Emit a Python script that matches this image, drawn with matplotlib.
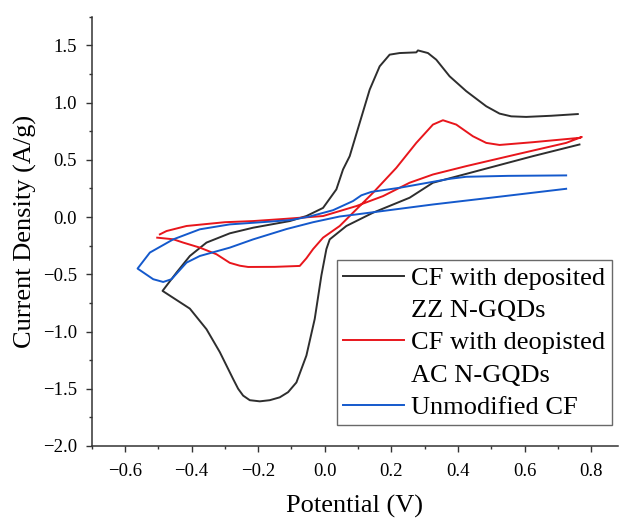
import matplotlib
matplotlib.use("Agg")
import matplotlib.pyplot as plt
from matplotlib.lines import Line2D
from matplotlib.ticker import MultipleLocator

OUTPUT = "out.png"

# CF with deposited ZZ N-GQDs (potential V, current density A/g)
zz_x = [0.765, 0.625, 0.475, 0.325, 0.255, 0.145, 0.065, 0.015, 0.005, -0.01,
        -0.03, -0.055, -0.085, -0.11, -0.135, -0.165, -0.195, -0.225, -0.245,
        -0.26, -0.275, -0.315, -0.355, -0.405, -0.487,
        -0.445, -0.405, -0.355, -0.285, -0.215, -0.105, -0.055, -0.005, 0.035,
        0.055, 0.075, 0.105, 0.135, 0.165, 0.195, 0.225, 0.275, 0.28, 0.31,
        0.335, 0.375, 0.425, 0.485, 0.525, 0.56, 0.605, 0.68, 0.76]
zz_y = [0.634, 0.532, 0.416, 0.30, 0.169, 0.038, -0.078, -0.195, -0.28, -0.51,
        -0.89, -1.21, -1.445, -1.53, -1.575, -1.60, -1.61, -1.60, -1.56,
        -1.50, -1.415, -1.18, -0.98, -0.80, -0.645,
        -0.485, -0.34, -0.223, -0.142, -0.093, -0.035, 0.009, 0.08, 0.242,
        0.416, 0.532, 0.823, 1.113, 1.317, 1.419, 1.433, 1.439, 1.456, 1.433,
        1.375, 1.23, 1.10, 0.968, 0.904, 0.88, 0.875, 0.885, 0.90]

# CF with deposited AC N-GQDs
ac_x = [-0.503, -0.455, -0.425, -0.375, -0.325, -0.285, -0.255, -0.23, -0.15,
        -0.075, -0.055, -0.035, -0.005, 0.045, 0.095, 0.145, 0.215, 0.275,
        0.325, 0.355, 0.395, 0.445, 0.485, 0.525, 0.625, 0.765, 0.772,
        0.725, 0.575, 0.425, 0.325, 0.255, 0.175, 0.095, -0.005, -0.115,
        -0.215, -0.3, -0.415, -0.475, -0.495]
ac_y = [-0.18, -0.194, -0.223, -0.267, -0.325, -0.40, -0.425, -0.436, -0.435,
        -0.427, -0.36, -0.28, -0.18, -0.078, 0.067, 0.212, 0.43, 0.648,
        0.808, 0.846, 0.808, 0.706, 0.648, 0.63, 0.654, 0.692, 0.70,
        0.648, 0.547, 0.445, 0.372, 0.30, 0.183, 0.096, 0.009, -0.015,
        -0.035, -0.045, -0.078, -0.122, -0.151]

# Unmodified CF
cf_x = [0.725, 0.525, 0.325, 0.095, 0.045, -0.035, -0.115, -0.215, -0.285,
        -0.375, -0.415, -0.46, -0.485, -0.515, -0.562,
        -0.525, -0.455, -0.375, -0.285, -0.165, -0.1, -0.045, 0.025, 0.085,
        0.11, 0.14, 0.225, 0.375, 0.425, 0.55, 0.725]
cf_y = [0.247, 0.178, 0.11, 0.023, 0.005, -0.045, -0.105, -0.195, -0.267,
        -0.34, -0.398, -0.543, -0.567, -0.543, -0.45,
        -0.31, -0.195, -0.107, -0.064, -0.04, -0.025, 0.005, 0.06, 0.14,
        0.19, 0.22, 0.256, 0.334, 0.352, 0.36, 0.364]

labels = ["CF with deposited", "ZZ N-GQDs", "CF with deopisted",
          "AC N-GQDs", "Unmodified CF"]

SERIF = ["Liberation Serif", "DejaVu Serif"]


def fmt(v, pos):
    return f"{v:.1f}".replace("-", "\u2212")


def main():
    plt.rcParams["font.family"] = SERIF
    plt.rcParams["font.serif"] = SERIF

    fig = plt.figure(figsize=(6.19, 5.19), dpi=100)
    ax = fig.add_axes([0.148, 0.1407, 0.85, 0.827])

    lw = 1.4
    kw = dict(lw=lw, solid_joinstyle="round")
    ax.plot(zz_x, zz_y, color="#2e2e2e", **kw)
    ax.plot(ac_x, ac_y, color="#e8161c", **kw)
    ax.plot(cf_x, cf_y, color="#1459cc", **kw)

    ax.set_xlim(-0.7, 0.88)
    ax.set_ylim(-2.0, 1.75)
    ax.xaxis.set_major_locator(MultipleLocator(0.2))
    ax.xaxis.set_minor_locator(MultipleLocator(0.1))
    ax.yaxis.set_major_locator(MultipleLocator(0.5))
    ax.yaxis.set_minor_locator(MultipleLocator(0.25))

    for s in ["top", "right"]:
        ax.spines[s].set_visible(False)
    for s in ["left", "bottom"]:
        ax.spines[s].set_linewidth(1.1)
        ax.spines[s].set_color("#333333")

    ax.tick_params(which="major", direction="out", length=4.5, width=1.0,
                   color="#333333", labelsize=13.5, pad=6,
                   labelfontfamily="Liberation Serif")
    ax.tick_params(axis="x", which="major", pad=7.5)
    ax.tick_params(which="minor", direction="out", length=2.5, width=1.0,
                   color="#333333")
    ax.xaxis.set_major_formatter(plt.FuncFormatter(fmt))
    ax.yaxis.set_major_formatter(plt.FuncFormatter(fmt))

    ax.set_xlabel("Potential (V)", fontsize=19, labelpad=11)
    ax.set_ylabel("Current Density (A/g)", fontsize=19, labelpad=4.5)

    handles = [
        Line2D([], [], color="#2e2e2e", lw=lw),
        Line2D([], [], color="none"),
        Line2D([], [], color="#e8161c", lw=lw),
        Line2D([], [], color="none"),
        Line2D([], [], color="#1459cc", lw=lw),
    ]
    leg = ax.legend(handles, labels, loc="upper right",
                    bbox_to_anchor=(0.9886, 0.4333), borderaxespad=0,
                    fontsize=19, frameon=True, fancybox=False,
                    edgecolor="#444444", handlelength=2.3,
                    handletextpad=0.27, labelspacing=0.33, borderpad=0.25)
    leg.get_frame().set_linewidth(1.0)

    fig.canvas.draw()
    for t in ax.get_xticklabels() + ax.get_yticklabels():
        t.set_fontfamily(SERIF)

    fig.savefig(OUTPUT, dpi=100)
    plt.close(fig)


if __name__ == "__main__":
    main()
